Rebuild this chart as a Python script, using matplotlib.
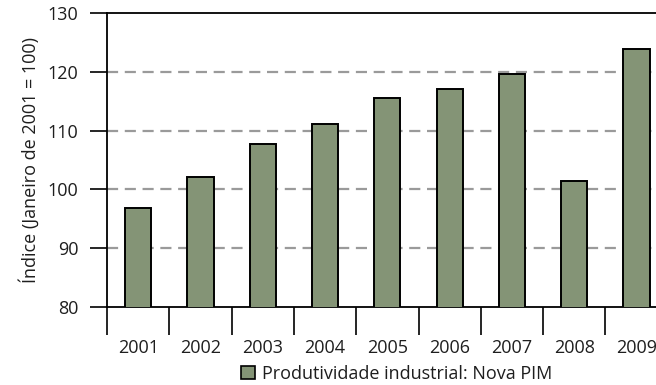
import numpy as np
import matplotlib
matplotlib.use('Agg')
import matplotlib.pyplot as plt
from matplotlib.patches import Patch

plt.rcParams['font.family'] = ['Open Sans', 'DejaVu Sans']
plt.rcParams['font.size'] = 13

# dados
anos = ['2001', '2002', '2003', '2004', '2005', '2006', '2007', '2008', '2009']
indice = [96.9, 102.1, 107.7, 111.1, 115.6, 117.0, 119.7, 101.4, 123.8]
grade_y = [90, 100, 110, 120]
ticks_y = [80, 90, 100, 110, 120, 130]
legenda = 'Produtividade industrial: Nova PIM'
rotulo_y = 'Índice (Janeiro de 2001 = 100)'

cor_barra = '#849476'
cor_texto = '#1e1e1e'

fig = plt.figure(figsize=(6.56, 3.85), dpi=100)
ax = fig.add_axes([107 / 656, 1 - 307 / 385, 1 - 107 / 656, 294 / 385])

x = np.arange(len(anos))
ax.bar(x, indice, width=0.42, color=cor_barra, edgecolor='black', linewidth=1.4, zorder=3)

# linhas de grade tracejadas
for g in grade_y:
    ax.axhline(g, color='#9a9a9a', linewidth=1.6, dashes=(5, 3), zorder=1)

ax.set_ylim(80, 130)
ax.set_xlim(-0.5, -0.5 + 549 / 62.3)

ax.set_yticks(ticks_y)
ax.tick_params(axis='y', direction='out', length=12.5, width=1.2, pad=8,
               labelcolor=cor_texto, labelsize=13)

# marcas do eixo x nas fronteiras, rótulos no centro das barras
ax.set_xticks(np.arange(len(anos)) - 0.5)
ax.set_xticklabels([])
ax.set_xticks(x, minor=True)
ax.set_xticklabels(anos, minor=True)
ax.tick_params(axis='x', which='major', direction='out', length=20, width=1.2)
ax.tick_params(axis='x', which='minor', length=0, pad=23, labelcolor=cor_texto, labelsize=13)

for s in ['left', 'bottom', 'top']:
    ax.spines[s].set_linewidth(1.3)
    ax.spines[s].set_color('black')
ax.spines['right'].set_visible(False)

ax.set_ylabel(rotulo_y, color=cor_texto, fontsize=13, labelpad=6)

fig.legend(handles=[Patch(facecolor=cor_barra, edgecolor='black', linewidth=1.2, label=legenda)],
           loc='center', bbox_to_anchor=(397 / 656, 1 - 374 / 385), frameon=False,
           handlelength=0.75, handleheight=0.75, handletextpad=0.4, fontsize=13,
           labelcolor=cor_texto)

fig.savefig('out.png', dpi=100)
